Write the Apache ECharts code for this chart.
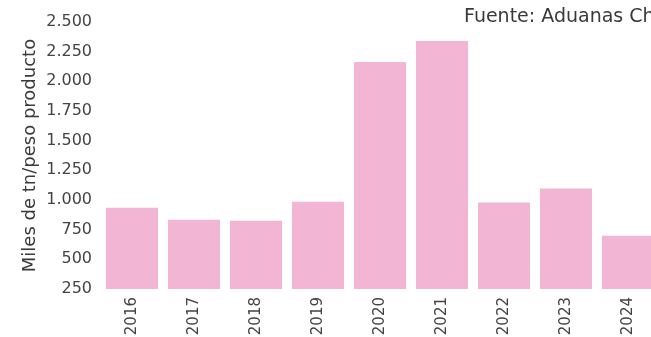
<!DOCTYPE html>
<html>
<head>
<meta charset="utf-8">
<script src="https://cdn.jsdelivr.net/npm/echarts@6/dist/echarts.min.js"></script>
<style>
  html, body { margin: 0; padding: 0; background: #ffffff; }
  #chart { width: 651px; height: 337px; }
</style>
</head>
<body>
<div id="chart"></div>
<script>
// Annual import volume, thousands of tonnes (product weight)
const years = ['2016', '2017', '2018', '2019', '2020', '2021', '2022', '2023', '2024'];
const volumes = [935, 834, 825, 986, 2162, 2340, 978, 1096, 698];

const yMin = 250;
const yMax = 2500;
const yStep = 250;

const sourceText = 'Fuente: Aduanas Chile';
const yTitle = 'Miles de tn/peso producto';

const fontFamily = '"DejaVu Sans", sans-serif';

function thousands(v) {
  return String(v).replace(/\B(?=(\d{3})+(?!\d))/g, '.');
}

const chart = echarts.init(document.getElementById('chart'), null, { renderer: 'canvas' });

chart.setOption({
  animation: false,
  backgroundColor: '#ffffff',
  title: {
    text: sourceText,
    left: 464,
    top: 8,
    padding: 0,
    textStyle: {
      fontFamily: fontFamily,
      fontSize: 19,
      fontWeight: 'normal',
      color: '#3a3a3a'
    }
  },
  grid: {
    left: 101,
    width: 558,
    top: 22,
    bottom: 48,
    containLabel: false,
    outerBoundsMode: 'none'
  },
  xAxis: {
    type: 'category',
    data: years,
    axisLine: { show: false },
    axisTick: { show: false },
    splitLine: { show: false },
    axisLabel: {
      rotate: 90,
      margin: 8,
      interval: 0,
      fontFamily: fontFamily,
      fontSize: 15,
      color: '#444444'
    }
  },
  yAxis: {
    type: 'value',
    min: yMin,
    max: yMax,
    interval: yStep,
    name: yTitle,
    nameLocation: 'middle',
    nameGap: 62,
    nameMoveOverlap: false,
    nameTextStyle: {
      fontFamily: fontFamily,
      fontSize: 18,
      color: '#3a3a3a'
    },
    axisLine: { show: false },
    axisTick: { show: false },
    splitLine: { show: false },
    axisLabel: {
      margin: 9,
      fontFamily: fontFamily,
      fontSize: 16,
      color: '#444444',
      formatter: thousands
    }
  },
  series: [{
    type: 'bar',
    data: volumes,
    barCategoryGap: '16%',
    itemStyle: { color: '#f2b5d4' }
  }]
});
</script>
</body>
</html>
